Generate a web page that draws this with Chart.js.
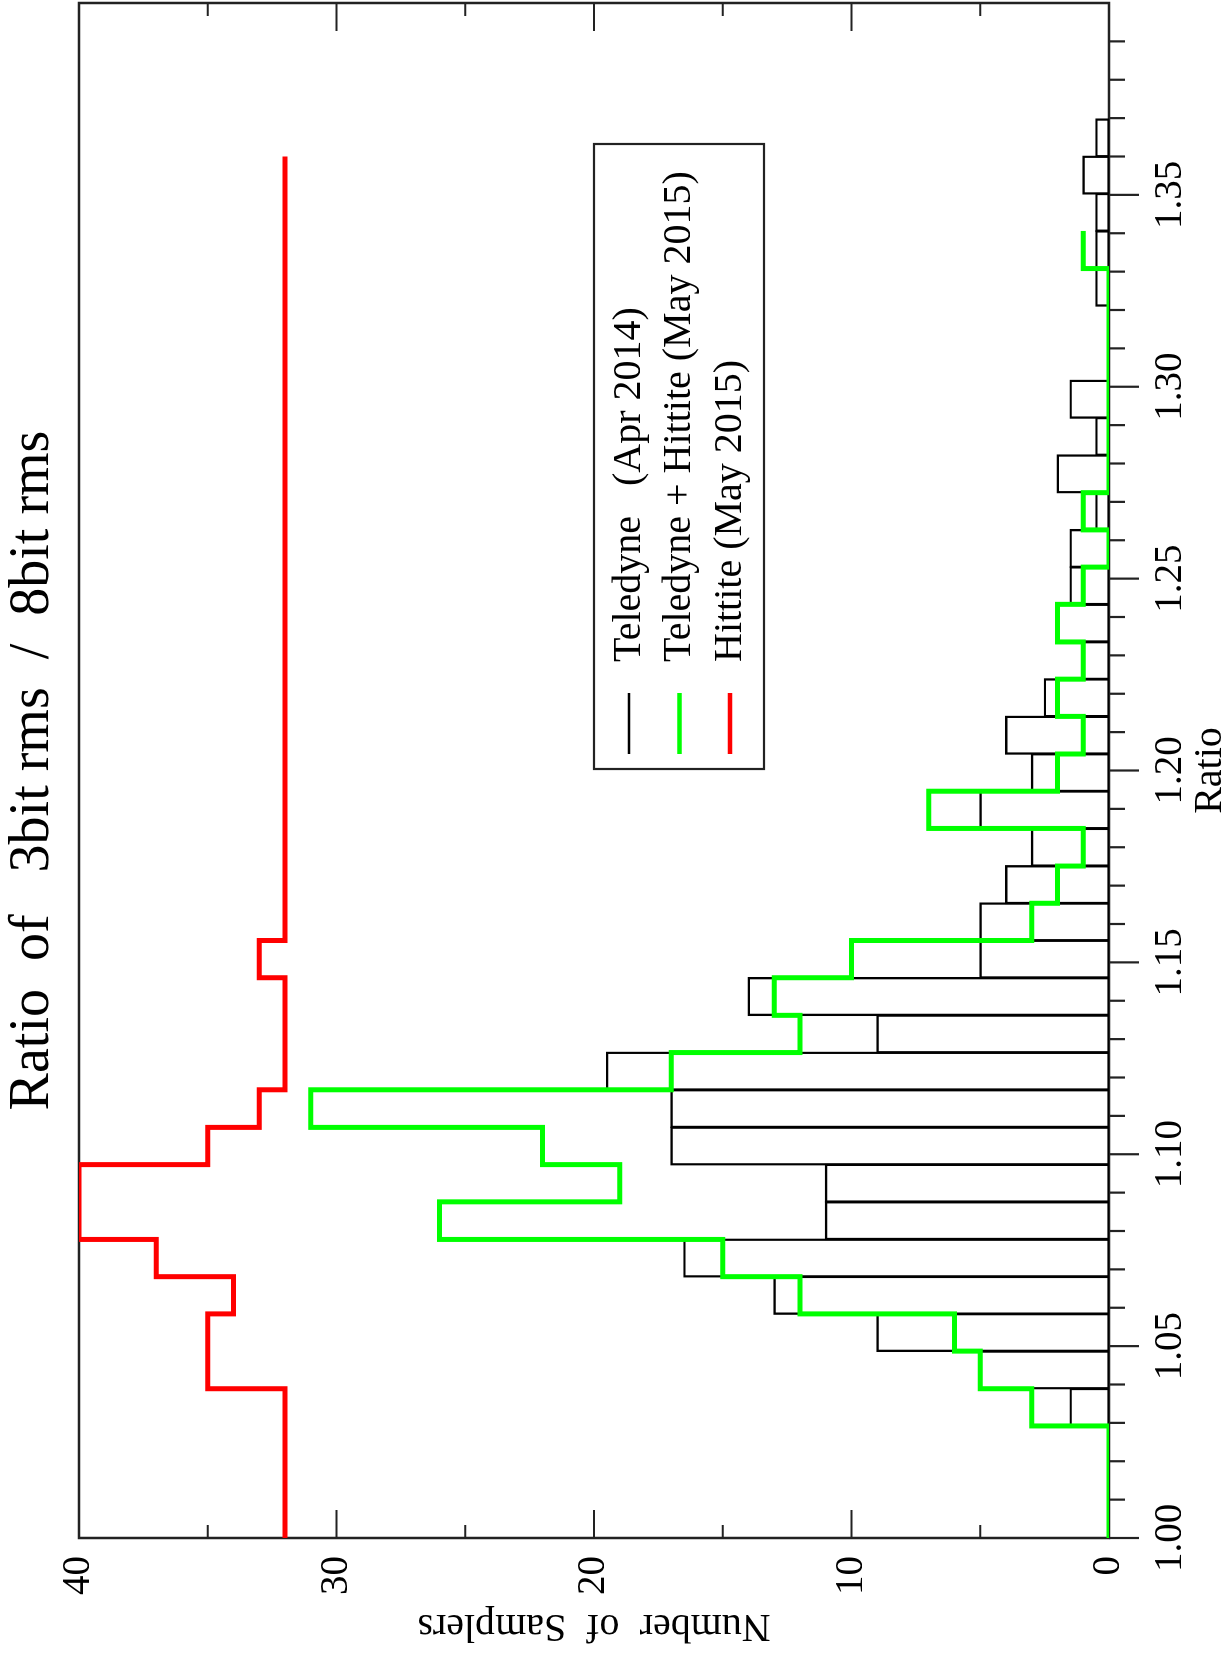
<!DOCTYPE html>
<html>
<head>
<meta charset="utf-8">
<title>Ratio of 3bit rms / 8bit rms</title>
<script src="https://cdn.jsdelivr.net/npm/chart.js@4.4.1/dist/chart.umd.min.js"></script>
<style>
  html, body { margin: 0; padding: 0; background: #fff; overflow: hidden; }
  #page { position: relative; width: 1228px; height: 1662px; overflow: hidden; background: #fff; }
  /* the plot is built landscape and turned a quarter turn to the left, like the original page */
  #stage { position: absolute; left: 0; top: 0; width: 1662px; height: 1228px;
           transform-origin: 0 0; transform: translateY(1662px) rotate(-90deg); }
</style>
</head>
<body>
<div id="page">
  <div id="stage"><canvas id="hist" width="1662" height="1228"></canvas></div>
</div>
<script>
// bin edges on the Ratio axis (bins are a bit narrower than 0.01)
const binEdges = [1.0000, 1.0097, 1.0195, 1.0292, 1.0389, 1.0487, 1.0584, 1.0681, 1.0778, 1.0876,
  1.0973, 1.1070, 1.1168, 1.1265, 1.1362, 1.1460, 1.1557, 1.1654, 1.1751, 1.1849,
  1.1946, 1.2043, 1.2141, 1.2238, 1.2335, 1.2433, 1.2530, 1.2627, 1.2724, 1.2822,
  1.2919, 1.3016, 1.3114, 1.3211, 1.3308, 1.3406, 1.3503, 1.3600, 1.3697];

// counts per bin, starting at the first edge
const teledyneApr2014 = [0, 0, 0, 1.5, 5, 9, 13, 16.5, 11, 11, 17, 17, 19.5, 9, 14, 5, 5, 4, 3, 5,
  3, 4, 2.5, 1, 2, 1.5, 1.5, 0.5, 2, 0.5, 1.5, 0, 0, 0.5, 0.5, 0.5, 1, 0.5];
const teledyneHittiteMay2015 = [0, 0, 0, 3, 5, 6, 12, 15, 26, 19, 22, 31, 17, 12, 13, 10, 3, 2, 1, 7,
  2, 1, 2, 1, 2, 1, 0, 1, 0, 0, 0, 0, 0, 0, 1];
const hittiteMay2015 = [32, 32, 32, 32, 35, 35, 34, 37, 40, 40, 35, 33, 32, 32, 32, 33, 32, 32, 32, 32,
  32, 32, 32, 32, 32, 32, 32, 32, 32, 32, 32, 32, 32, 32, 32, 32, 32];

const ratioTicks = [1.00, 1.05, 1.10, 1.15, 1.20, 1.25, 1.30, 1.35];
const countTicks = [0, 10, 20, 30, 40];

const seriesNames = ['Teledyne   (Apr 2014)', 'Teledyne + Hittite (May 2015)', 'Hittite (May 2015)'];
const seriesColors = ['#000000', '#00ff00', '#ff0000'];
const chartTitle = 'Ratio  of   3bit rms  /  8bit rms';

const serif = '"Liberation Serif", "DejaVu Serif", serif';

// step outline: one point per bin start, plus the closing edge
function stepPoints(values) {
  const pts = values.map((v, i) => ({ x: binEdges[i], y: v }));
  pts.push({ x: binEdges[values.length], y: values[values.length - 1] });
  return pts;
}

// boxes for the black histogram, centred in each bin
const boxPoints = teledyneApr2014.map((v, i) => ({ x: (binEdges[i] + binEdges[i + 1]) / 2, y: v }));

// frame, tick marks, titles and the legend box
const decorations = {
  id: 'decorations',
  beforeDatasetsDraw(chart) {
    const { ctx, chartArea: a, scales: { x, y } } = chart;
    ctx.save();
    ctx.strokeStyle = '#222';
    ctx.lineWidth = 2.5;
    ctx.strokeRect(a.left, a.top, a.right - a.left, a.bottom - a.top);
    ctx.lineWidth = 2.2;
    ctx.beginPath();
    // ratio ticks point outwards, every 0.01
    for (let i = 0; i < 40; i++) {
      const px = x.getPixelForValue(1 + i / 100);
      const len = i % 5 === 0 ? 30 : 16;
      ctx.moveTo(px, a.bottom);
      ctx.lineTo(px, a.bottom + len);
    }
    // count ticks point inwards on both sides, every 5
    for (let n = 0; n <= 40; n += 5) {
      const py = y.getPixelForValue(n);
      const len = n % 10 === 0 ? 28 : 13;
      ctx.moveTo(a.left, py);
      ctx.lineTo(a.left + len, py);
      ctx.moveTo(a.right, py);
      ctx.lineTo(a.right - len, py);
    }
    ctx.stroke();
    ctx.restore();
  },
  afterDraw(chart) {
    const { ctx, chartArea: a } = chart;
    const midX = (a.left + a.right) / 2;
    const midY = (a.top + a.bottom) / 2;
    ctx.save();
    ctx.fillStyle = '#000';
    ctx.textAlign = 'center';
    ctx.textBaseline = 'middle';

    ctx.font = '56px ' + serif;
    ctx.fillText(chartTitle, midX, 33);

    ctx.font = '40px ' + serif;
    ctx.fillText('Ratio', midX, 1210);

    ctx.save();
    ctx.translate(36, midY);
    ctx.rotate(-Math.PI / 2);
    ctx.fillText('Number  of  Samplers', 0, 0);
    ctx.restore();

    // legend
    ctx.strokeStyle = '#222';
    ctx.lineWidth = 2.2;
    ctx.strokeRect(893, 594, 625, 170);
    ctx.textAlign = 'left';
    ctx.font = '40px ' + serif;
    seriesNames.forEach((name, i) => {
      const ly = 629 + i * 50.5;
      ctx.strokeStyle = seriesColors[i];
      ctx.lineWidth = i === 0 ? 2.6 : 4.5;
      ctx.beginPath();
      ctx.moveTo(908, ly);
      ctx.lineTo(969, ly);
      ctx.stroke();
      ctx.fillText(name, 1000, ly);
    });
    ctx.restore();
  }
};

new Chart(document.getElementById('hist'), {
  type: 'bar',
  data: {
    datasets: [
      {
        type: 'line',
        label: seriesNames[2],
        data: stepPoints(hittiteMay2015),
        borderColor: seriesColors[2],
        borderWidth: 5,
        stepped: 'before',
        pointRadius: 0,
        fill: false,
        order: 1
      },
      {
        type: 'line',
        label: seriesNames[1],
        data: stepPoints(teledyneHittiteMay2015),
        borderColor: seriesColors[1],
        borderWidth: 5,
        stepped: 'before',
        pointRadius: 0,
        fill: false,
        order: 2
      },
      {
        type: 'bar',
        label: seriesNames[0],
        data: boxPoints,
        backgroundColor: 'rgba(0,0,0,0)',
        borderColor: seriesColors[0],
        borderWidth: 0.4,
        inflateAmount: 1,
        borderSkipped: false,
        barPercentage: 1,
        categoryPercentage: 1,
        order: 3
      }
    ]
  },
  options: {
    responsive: false,
    devicePixelRatio: 1,
    animation: false,
    layout: { padding: { left: 0, right: 3, top: 79, bottom: 0 } },
    plugins: {
      legend: { display: false },
      title: { display: false },
      tooltip: { enabled: false }
    },
    scales: {
      x: {
        type: 'linear',
        min: 1.0,
        max: 1.4,
        offset: false,
        grid: { display: false, drawTicks: false },
        border: { display: false },
        afterBuildTicks: s => { s.ticks = ratioTicks.map(v => ({ value: v })); },
        afterFit: s => { s.height = 119; },
        ticks: {
          autoSkip: false,
          maxRotation: 0,
          padding: 38,
          color: '#000',
          font: { family: serif, size: 39 },
          callback: v => Number(v).toFixed(2)
        }
      },
      y: {
        type: 'linear',
        min: 0,
        max: 40,
        grid: { display: false, drawTicks: false },
        border: { display: false },
        afterBuildTicks: s => { s.ticks = countTicks.map(v => ({ value: v })); },
        afterFit: s => { s.width = 124; },
        ticks: {
          padding: 18,
          color: '#000',
          font: { family: serif, size: 39 },
          callback: v => String(v)
        }
      }
    }
  },
  plugins: [decorations]
});
</script>
</body>
</html>
